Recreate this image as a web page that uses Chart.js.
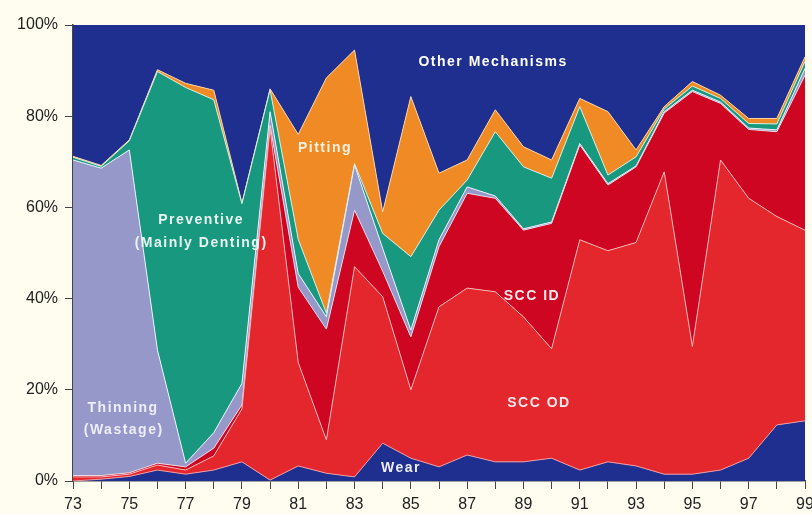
<!DOCTYPE html>
<html>
<head>
<meta charset="utf-8">
<script src="https://cdn.jsdelivr.net/npm/chart.js@4/dist/chart.umd.min.js"></script>
<style>
html,body{margin:0;padding:0;background:#fffdf0;}
#wrap{width:812px;height:514px;position:relative;}
</style>
</head>
<body>
<div id="wrap"><canvas id="c" width="812" height="514"></canvas></div>
<script>
const years = ['73','74','75','76','77','78','79','80','81','82','83','84','85','86','87','88','89','90','91','92','93','94','95','96','97','98','99'];
const wear       = [0,0.4,1.0,2.4,1.5,2.4,4.2,0.2,3.3,1.7,0.9,8.3,5.0,3.1,5.7,4.2,4.2,5.0,2.4,4.2,3.3,1.5,1.5,2.4,5.0,12.3,13.2];
const sccOD      = [0.9,0.5,0.5,1.1,0.9,3.1,11.6,77.2,22.7,7.3,46.1,32.1,15.0,35.1,36.6,37.3,31.8,24.0,50.5,46.3,49.0,66.3,28.0,68.0,57.0,45.7,41.8];
const sccID      = [0.3,0.3,0.3,0.4,0.7,1.7,0.9,0.6,16.5,24.3,12.4,5.6,11.6,13.2,20.8,20.5,19.0,27.5,20.8,14.4,16.6,12.9,55.9,12.4,15.1,18.6,34.0];
const thinning   = [69.2,67.4,70.8,24.8,0.8,3.4,4.7,3.0,3.0,2.7,9.9,5.0,1.5,1.5,1.4,0.5,0.3,0.3,0.3,0.3,0.2,0.3,0.3,0.3,0.3,0.4,1.5];
const preventive = [0.6,0.4,2.0,61.1,82.4,73.0,39.4,4.8,7.5,0.8,0.3,3.3,16.1,6.5,1.5,14.1,13.6,9.6,8.1,1.9,2.0,0.6,0.9,0.8,1.0,1.3,1.5];
const pitting    = [0.2,0.2,0.2,0.4,0.9,2.1,0.2,0.2,23.0,51.6,24.9,4.7,35.1,8.1,4.4,4.8,4.4,4.0,1.8,13.9,1.5,0.5,1.0,0.7,1.1,1.2,1.0];
const other      = [28.8,30.8,25.2,9.8,12.8,14.3,39.0,14.0,24.0,11.6,5.5,41.0,15.7,32.5,29.6,18.6,26.7,29.6,16.1,19.0,27.4,17.9,12.4,15.4,20.5,20.5,7.0];
const yTicks = [0,20,40,60,80,100];

const seriesNames = ['Wear','SCC OD','SCC ID','Thinning (Wastage)','Preventive (Mainly Denting)','Pitting','Other Mechanisms'];
const seriesData = [wear,sccOD,sccID,thinning,preventive,pitting,other];
const fills = ['#1f2f8f','#e4262d','#cf0622','#9598c9','#17987f','#f08a25','#1f2f8f'];
const lines = ['#f29aa0','#f6b4b4','#eadbe6','#e8f0fb','#d5eee4','#f7d2a4','rgba(0,0,0,0)'];

// in-chart labels: [text, category index, percent, colour]
const labels = [
  ['Other Mechanisms',14.92,91.9,'#ffffff'],
  ['Pitting',8.95,73.0,'#fdf1dc'],
  ['Preventive',4.55,57.2,'#eaf6f1'],
  ['(Mainly Denting)',4.55,52.2,'#eaf6f1'],
  ['SCC ID',16.3,40.6,'#fbe9ec'],
  ['SCC OD',16.55,17.1,'#fbe9ec'],
  ['Thinning',1.78,16.0,'#eeeefa'],
  ['(Wastage)',1.8,11.2,'#eeeefa'],
  ['Wear',11.65,2.8,'#eeeefa']
];

const bgPlugin = {
  id:'bg',
  beforeDraw(chart){
    const ctx = chart.ctx;
    ctx.save();
    ctx.fillStyle = '#fffdf0';
    ctx.fillRect(0,0,chart.width,chart.height);
    ctx.restore();
  }
};
const textPlugin = {
  id:'txt',
  afterDatasetsDraw(chart){
    const ctx = chart.ctx, xs = chart.scales.x, ys = chart.scales.y;
    ctx.save();
    ctx.font = 'bold 14px "Liberation Sans", Arial, sans-serif';
    ctx.textAlign = 'center';
    ctx.textBaseline = 'middle';
    try { ctx.letterSpacing = '1.5px'; } catch(e) {}
    labels.forEach(l => {
      ctx.fillStyle = l[3];
      ctx.fillText(l[0], xs.getPixelForValue(l[1]), ys.getPixelForValue(l[2]));
    });
    ctx.restore();
  }
};

const datasets = seriesData.map((d,i) => ({
  label: seriesNames[i],
  data: d,
  backgroundColor: fills[i],
  borderColor: lines[i],
  borderWidth: i === 6 ? 0 : 1,
  fill: i === 0 ? 'origin' : '-1',
  pointRadius: 0,
  tension: 0
}));

new Chart(document.getElementById('c'), {
  type: 'line',
  data: { labels: years, datasets },
  options: {
    responsive: false,
    animation: false,
    layout: { padding: { top: 25, right: 7, left: 0, bottom: 0 } },
    plugins: { legend: { display: false }, tooltip: { enabled: false } },
    scales: {
      x: {
        offset: false,
        grid: { drawOnChartArea: false, drawTicks: true, tickLength: 8, color: '#444' },
        border: { display: true, color: '#444', width: 1.5 },
        ticks: {
          autoSkip: false, maxRotation: 0, padding: 6,
          color: '#222',
          font: { size: 16, family: '"Liberation Sans", Arial, sans-serif' },
          callback: function(v, i){ return i % 2 === 0 ? years[i] : ''; }
        },
        afterFit(s){ s.height = 33; s.paddingLeft = 0; s.paddingRight = 0; }
      },
      y: {
        stacked: true, min: 0, max: 100,
        afterBuildTicks(s){ s.ticks = yTicks.map(v => ({value: v})); },
        grid: { drawOnChartArea: false, drawTicks: true, tickLength: 8, color: '#444' },
        border: { display: true, color: '#444', width: 1.5 },
        ticks: {
          padding: 7, color: '#222',
          font: { size: 16, family: '"Liberation Sans", Arial, sans-serif' },
          callback: v => v + '%'
        },
        afterFit(s){ s.width = 73; s.paddingTop = 0; s.paddingBottom = 0; }
      }
    }
  },
  plugins: [bgPlugin, textPlugin]
});
</script>
</body>
</html>
